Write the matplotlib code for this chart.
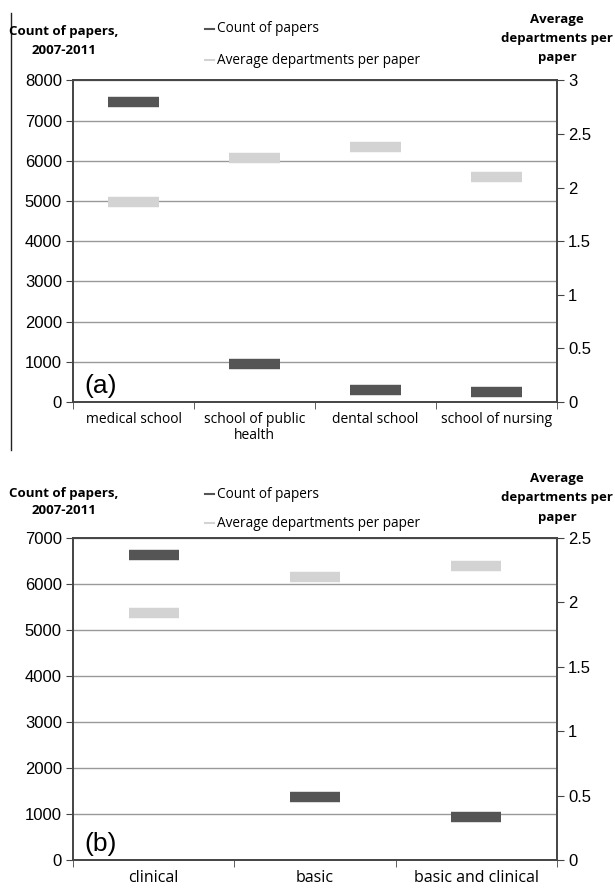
import matplotlib
matplotlib.use("Agg")
import matplotlib.pyplot as plt
from matplotlib.lines import Line2D
import numpy as np

# panel (a) data
schools = ["medical school", "school of public\nhealth", "dental school", "school of nursing"]
count_a = [7475, 945, 305, 245]
avg_a = [1.87, 2.28, 2.38, 2.10]

# panel (b) data
research = ["clinical", "basic", "basic and clinical"]
count_b = [6630, 1380, 935]
avg_b = [1.92, 2.20, 2.28]

dark = "#555555"
light = "#d3d3d3"
num_font = "Liberation Sans"
lab_font = "Open Sans"

fig = plt.figure(figsize=(6.15, 8.88), dpi=100)
W, H = 615, 888


def panel(top, bottom, cats, counts, avgs, ymax, y2max, half, tag, xfs, pad):
    ax = fig.add_axes([73 / W, 1 - bottom / H, 484 / W, (bottom - top) / H])
    ax2 = ax.twinx()
    n = len(cats)
    x = np.arange(n)
    ax.set_xlim(-0.5, n - 0.5)
    ax.set_ylim(0, ymax)
    ax2.set_ylim(0, y2max)
    ax.set_yticks(np.arange(0, ymax + 1, 1000))
    r = np.arange(0, y2max + 0.01, 0.5)
    ax2.set_yticks(r)
    ax2.set_yticklabels(["%g" % v for v in r])
    ax.yaxis.grid(True, color="#999999", lw=1)
    ax.set_axisbelow(True)
    ax.hlines(counts, x - half, x + half, color=dark, lw=7.5, zorder=3)
    ax2.hlines(avgs, x - half, x + half, color=light, lw=7.5, zorder=3)
    ax.set_xticks(x)
    ax.set_xticklabels(cats, fontfamily=lab_font, fontsize=xfs, linespacing=1.15)
    ax.set_xticks(np.arange(-0.5, n, 1), minor=True)
    ax.tick_params(axis="x", which="major", length=0, pad=pad)
    ax.tick_params(axis="x", which="minor", length=5, color="#444444")
    for a in (ax, ax2):
        a.tick_params(axis="y", length=5, color="#444444", labelsize=12, pad=3)
        for lab in a.get_yticklabels():
            lab.set_fontfamily(num_font)
        for s in ("left", "right", "bottom", "top"):
            a.spines[s].set_color("#444444")
            a.spines[s].set_linewidth(1.2)
    ax.text(0.023, 0.012, tag, transform=ax.transAxes, fontsize=19,
            fontfamily=num_font, ha="left", va="bottom")
    return ax


panel(80.5, 402, schools, count_a, avg_a, 8000, 3, 0.207, "(a)", 10, 7)
panel(538, 860, research, count_b, avg_b, 7000, 2.5, 0.155, "(b)", 11.5, 7)


def headers(left1, left2, leg1, leg2, right1):
    fig.text(64 / W, 1 - left1 / H, "Count of papers,", ha="center", va="center",
             fontsize=9.5, fontweight="bold", fontfamily=lab_font)
    fig.text(64 / W, 1 - left2 / H, "2007-2011", ha="center", va="center",
             fontsize=9.5, fontweight="bold", fontfamily=lab_font)
    for i, t in enumerate(["Average", "departments per", "paper"]):
        fig.text(557 / W, 1 - (right1 + 19.5 * i) / H, t, ha="center", va="center",
                 fontsize=9.5, fontweight="bold", fontfamily=lab_font)
    fig.text(217 / W, 1 - leg1 / H, "Count of papers", ha="left", va="center",
             fontsize=9.8, fontfamily=lab_font)
    fig.text(217 / W, 1 - leg2 / H, "Average departments per paper", ha="left",
             va="center", fontsize=9.8, fontfamily=lab_font)
    fig.add_artist(Line2D([205 / W, 214 / W], [1 - leg1 / H] * 2, color=dark, lw=1.5))
    fig.add_artist(Line2D([205 / W, 214 / W], [1 - leg2 / H] * 2, color=light, lw=1.5))


headers(32, 51, 29, 60, 19)
headers(493, 511, 494, 523, 478)

# stray border line at the left of panel (a)
fig.add_artist(Line2D([11 / W, 11 / W], [1 - 13 / H, 1 - 450 / H],
                      color="#222222", lw=1))

fig.savefig("out.png", dpi=100)
